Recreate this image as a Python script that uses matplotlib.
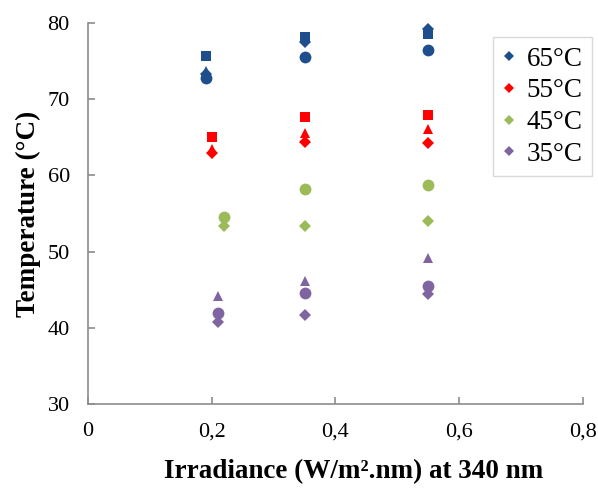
import matplotlib.pyplot as plt
from matplotlib.ticker import FuncFormatter

# irradiance (W/m2.nm) at 340 nm and measured temperatures, one group per set point
blue_x = [0.19, 0.35, 0.55]
blue_diamond = [73.3, 77.5, 79.2]
blue_square = [75.7, 78.1, 78.6]
blue_circle = [72.8, 75.5, 76.4]
blue_tri_x = [0.19]
blue_triangle = [73.7]

red_x = [0.20, 0.35, 0.55]
red_diamond = [63.0, 64.4, 64.2]
red_square = [65.0, 67.7, 67.9]
red_triangle = [63.4, 65.5, 66.1]

green_x = [0.22, 0.35, 0.55]
green_diamond = [53.4, 53.4, 54.0]
green_circle = [54.6, 58.2, 58.7]

purple_x = [0.21, 0.35, 0.55]
purple_diamond = [40.8, 41.7, 44.4]
purple_circle = [42.0, 44.6, 45.5]
purple_triangle = [44.2, 46.2, 49.1]

labels = ["65°C", "55°C", "45°C", "35°C"]
colors = ["#1F4E8C", "#FF0000", "#9BBB59", "#8064A2"]

plt.rcParams["font.family"] = ["Liberation Serif", "DejaVu Serif"]

fig = plt.figure(figsize=(5.98, 4.88), dpi=100)
ax = fig.add_axes([0.147, 0.172, 0.828, 0.781])

ms = {"D": 6.5, "s": 7.0, "^": 7.5, "o": 8.5}

def pts(x, y, marker, color, label=None):
    ax.plot(x, y, linestyle="none", marker=marker, color=color,
            markersize=ms[marker], markeredgewidth=0, label=label)

# diamonds carry the legend entries
pts(blue_x, blue_diamond, "D", colors[0], labels[0])
pts(red_x, red_diamond, "D", colors[1], labels[1])
pts(green_x, green_diamond, "D", colors[2], labels[2])
pts(purple_x, purple_diamond, "D", colors[3], labels[3])

pts(blue_x, blue_square, "s", colors[0])
pts(blue_x, blue_circle, "o", colors[0])
pts(blue_tri_x, blue_triangle, "^", colors[0])
pts(red_x, red_square, "s", colors[1])
pts(red_x, red_triangle, "^", colors[1])
pts(green_x, green_circle, "o", colors[2])
pts(purple_x, purple_circle, "o", colors[3])
pts(purple_x, purple_triangle, "^", colors[3])

ax.set_xlim(0, 0.8)
ax.set_ylim(30, 80)
ax.set_xticks([0, 0.2, 0.4, 0.6, 0.8])
ax.set_yticks([30, 40, 50, 60, 70, 80])
ax.xaxis.set_major_formatter(FuncFormatter(lambda v, _: f"{v:g}".replace(".", ",")))

for side in ("top", "right"):
    ax.spines[side].set_visible(False)
for side in ("left", "bottom"):
    ax.spines[side].set_color("#8C8C8C")
    ax.spines[side].set_linewidth(1.2)
ax.tick_params(direction="in", length=5, width=1.2, color="#8C8C8C",
               labelsize=16, pad=13)

ax.set_xlabel("Irradiance (W/m².nm) at 340 nm", fontsize=19.5, fontweight="bold", labelpad=13)
ax.xaxis.label.set_x(0.537)
ax.set_ylabel("Temperature (°C)", fontsize=19.5, fontweight="bold", labelpad=5)

leg = ax.legend(loc="upper right", bbox_to_anchor=(1.018, 0.963), borderaxespad=0,
                fontsize=19.5, frameon=True, fancybox=False, handlelength=0.5,
                handletextpad=0.4, borderpad=0.35, labelspacing=0.25, markerscale=0.75)
leg.get_frame().set_edgecolor("#D0D0D0")
leg.get_frame().set_linewidth(1.0)

fig.savefig("out.png", dpi=100)
